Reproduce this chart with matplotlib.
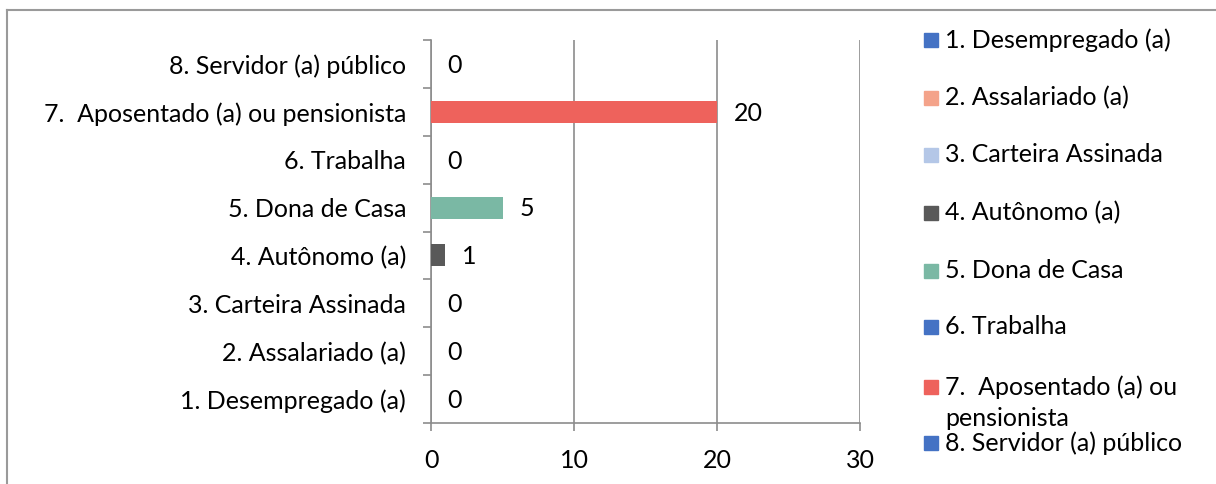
import matplotlib.pyplot as plt
from matplotlib.patches import Rectangle
from matplotlib.lines import Line2D
import numpy as np

# data
categories = ["1. Desempregado (a)", "2. Assalariado (a)", "3. Carteira Assinada",
              "4. Autônomo (a)", "5. Dona de Casa", "6. Trabalha",
              "7.  Aposentado (a) ou pensionista", "8. Servidor (a) público"]
legend_labels = ["1. Desempregado (a)", "2. Assalariado (a)", "3. Carteira Assinada",
                 "4. Autônomo (a)", "5. Dona de Casa", "6. Trabalha",
                 "7.  Aposentado (a) ou\npensionista", "8. Servidor (a) público"]
values = [0, 0, 0, 1, 5, 0, 20, 0]
colors = ["#4472C4", "#F4A38A", "#B4C7E7", "#595959", "#7AB8A4", "#4472C4", "#EE625C", "#4472C4"]
xticks = [0, 10, 20, 30]

plt.rcParams['font.family'] = ['Lato', 'DejaVu Sans']
FS = 18
W, H = 1216, 484
fig = plt.figure(figsize=(W / 100, H / 100), dpi=100)
ax = fig.add_axes([431 / W, 1 - 423 / H, (860 - 431) / W, (423 - 40) / H])

grid_c = "#8C8C8C"
y = np.arange(len(categories))
ax.barh(y, values, height=0.46, color=colors, zorder=3)
for yi, v in zip(y, values):
    ax.annotate(str(v), (v, yi), xytext=(12, -1), textcoords="offset points",
                ha="left", va="center", fontsize=FS, color="black")

ax.set_xlim(0, 30)
ax.set_ylim(-0.5, len(categories) - 0.5)
ax.set_xticks(xticks)
ax.set_xticklabels([str(t) for t in xticks], fontsize=FS)
ax.set_yticks(y)
ax.set_yticklabels(categories, fontsize=FS)
ax.set_yticks(np.arange(-0.5, len(categories), 1), minor=True)
ax.tick_params(axis="y", which="major", length=0, pad=18)
ax.tick_params(axis="y", which="minor", length=6, color=grid_c, width=1.2)
ax.tick_params(axis="x", length=6, color=grid_c, width=1.2, pad=13)
ax.xaxis.grid(True, color=grid_c, linewidth=1.2, zorder=0)
for s in ["top", "right"]:
    ax.spines[s].set_visible(False)
for s in ["left", "bottom"]:
    ax.spines[s].set_color(grid_c)
    ax.spines[s].set_linewidth(1.2)

# legend drawn by hand to mimic the original layout
leg_y = [40, 98, 155, 213, 271, 327, 387, 443]
for lab, c, py in zip(legend_labels, colors, leg_y):
    fig.add_artist(Rectangle((924 / W, 1 - (py + 7) / H), 14 / W, 14 / H,
                             transform=fig.transFigure, color=c))
    for k, line in enumerate(lab.split("\n")):
        fig.text(945 / W, 1 - (py + 31 * k) / H, line, fontsize=FS,
                 ha="left", va="center")

# outer frame (top and left edges)
fig.add_artist(Line2D([7 / W, 1], [1 - 10 / H, 1 - 10 / H], color="#9A9A9A", linewidth=1.5))
fig.add_artist(Line2D([7 / W, 7 / W], [0, 1 - 10 / H], color="#9A9A9A", linewidth=1.5))

fig.savefig("out.png", dpi=100)
